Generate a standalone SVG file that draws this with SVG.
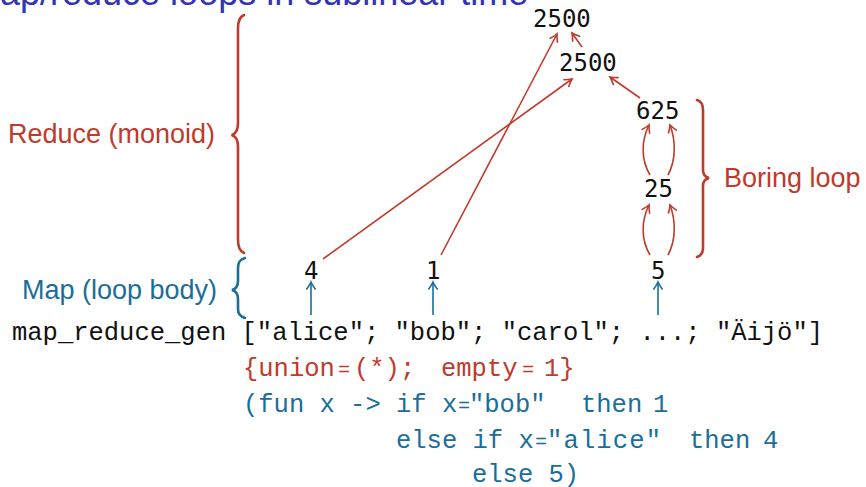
<svg xmlns="http://www.w3.org/2000/svg" width="866" height="487" viewBox="0 0 866 487">
<defs>
<style>
.title{font-family:"Liberation Sans",Arial,sans-serif;font-size:36px;fill:#3333B3}
.lbl{font-family:"Liberation Sans",Arial,sans-serif;font-size:27px}
.red{fill:#BF3A2B}
.blue{fill:#1A6E9B}
.num{font-family:"DejaVu Sans Mono",monospace;font-size:24px;fill:#111}
.code{font-family:"Liberation Mono","DejaVu Sans Mono",monospace;font-size:25.5px}
.eq{font-family:"Liberation Sans",Arial,sans-serif;font-size:20px}
.ra{stroke:#BF3A2B;stroke-width:1.6;fill:none;marker-end:url(#ah-r)}
.ba{stroke:#1A6E9B;stroke-width:1.6;fill:none;marker-end:url(#ah-b)}
.br{stroke-width:2.6;fill:none;stroke-linecap:round}
</style>
<marker id="ah-r" markerUnits="userSpaceOnUse" viewBox="-9 -6 11 12" markerWidth="11" markerHeight="12" refX="0" refY="0" orient="auto">
<path d="M-7,-4.2 Q-2.5,-1 0,0 Q-2.5,1 -7,4.2" stroke="#BF3A2B" stroke-width="1.6" fill="none" stroke-linecap="round"/>
</marker>
<marker id="ah-b" markerUnits="userSpaceOnUse" viewBox="-9 -6 11 12" markerWidth="11" markerHeight="12" refX="0" refY="0" orient="auto">
<path d="M-7,-4.2 Q-2.5,-1 0,0 Q-2.5,1 -7,4.2" stroke="#1A6E9B" stroke-width="1.6" fill="none" stroke-linecap="round"/>
</marker>
</defs>
<rect width="866" height="487" fill="#fff"/>
<text class="title" x="-30" y="5">Map/reduce loops in sublinear time</text>

<g id="braces">
<path class="br" stroke="#BF3A2B" d="M244,15 C239.5,17 238,21 238,28 L238,123 C238,130 236,134 231.5,135 C236,136 238,140 238,147 L238,240 C238,247 239.5,251 244,253"/>
<path class="br" stroke="#1A6E9B" d="M245,258 C240,259.5 238,262 238,268 L238,281 C238,286 236,289 232,290 C236,291 238,294 238,299 L238,309 C238,314 240,316.5 245,318"/>
<path class="br" stroke="#BF3A2B" d="M697,100 C701.5,101.5 703,104 703,110 L703,170 C703,174 705,177 709,178 C705,179 703,182 703,186 L703,248 C703,253 701.5,255.5 697,257"/>
</g>

<g id="labels">
<text id="reduce-label" class="lbl red" x="8" y="143">Reduce (monoid)</text>
<text id="map-label" class="lbl blue" x="22" y="299">Map (loop body)</text>
<text id="boring-label" class="lbl red" x="724" y="187">Boring loop</text>
</g>

<g id="n-2500a"><text class="num" x="533" y="27">2500</text></g>
<g id="n-2500b"><text class="num" x="559" y="71">2500</text></g>
<g id="n-625"><text class="num" x="636" y="119">625</text></g>
<g id="n-25"><text class="num" x="644" y="197">25</text></g>
<g id="n-4"><text class="num" x="304" y="279">4</text></g>
<g id="n-1"><text class="num" x="426" y="279">1</text></g>
<g id="n-5"><text class="num" x="651" y="279">5</text></g>

<g id="connectors">
<path class="ra" d="M323,259 L572,79"/>
<path class="ra" d="M441,255 L557,34"/>
<path class="ra" d="M582,47 L572,33"/>
<path class="ra" d="M640,98 L610,77"/>
<path class="ra" d="M650,255 C641,240 641,221 649,205"/>
<path class="ra" d="M668,255 C676,240 676,221 670,205"/>
<path class="ra" d="M650,175 C641,160 641,141 649,125"/>
<path class="ra" d="M668,175 C676,160 676,141 670,125"/>
<path class="ba" d="M311,315 L311,282"/>
<path class="ba" d="M433,315 L433,282"/>
<path class="ba" d="M658,315 L658,282"/>
</g>

<g id="code">
<text class="code" x="12" y="340" fill="#111">map_reduce_gen ["alice"; "bob"; "carol"; ...; "Äijö"]</text>
<g class="red">
<text class="code" x="243" y="376">{union</text>
<text class="eq" x="344" y="376" text-anchor="middle">=</text>
<text class="code" x="354" y="376">(*);</text>
<text class="code" x="441" y="376">empty</text>
<text class="eq" x="528" y="376" text-anchor="middle">=</text>
<text class="code" x="544" y="376">1}</text>
</g>
<g class="blue">
<text class="code" x="243" y="412">(fun x -&gt; if x</text>
<text class="eq" x="464" y="412" text-anchor="middle">=</text>
<text class="code" x="469" y="412">"bob"</text>
<text class="code" x="581" y="412">then</text>
<text class="code" x="653" y="412">1</text>
<text class="code" x="396" y="448">else if x</text>
<text class="eq" x="541" y="448" text-anchor="middle">=</text>
<text class="code" x="547" y="448" textLength="114" lengthAdjust="spacing">"alice"</text>
<text class="code" x="689" y="448">then</text>
<text class="code" x="763" y="448">4</text>
<text class="code" x="472" y="482">else 5)</text>
</g>
</g>
</svg>
